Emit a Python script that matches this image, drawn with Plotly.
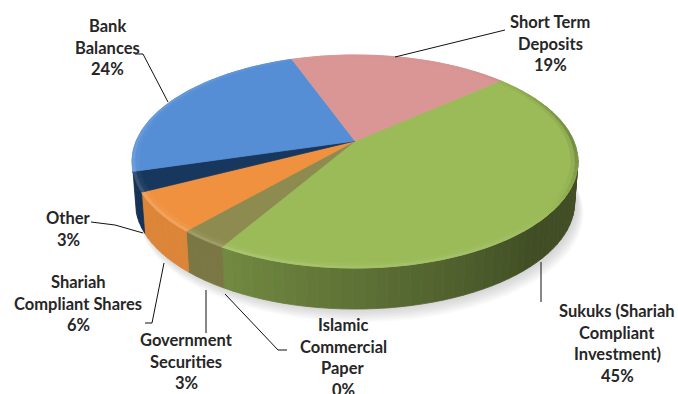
import numpy as np
import plotly.graph_objects as go

# Portfolio composition, clockwise from the start angle
categories = [
    "Sukuks (Shariah\nCompliant\nInvestment)",
    "Islamic\nCommercial\nPaper",
    "Government\nSecurities",
    "Shariah\nCompliant Shares",
    "Other",
    "Bank\nBalances",
    "Short Term\nDeposits",
]
values = [45, 0, 3, 6, 3, 24, 19]
top_colors = ["#9BBB59", "#4BACC6", "#8E8B50", "#F0913F", "#17375E", "#558ED5", "#D99694"]
side_gains = [1.0, 1.0, 0.86, 0.92, 0.9, 0.9, 0.75]

# Perspective disc geometry
START = 48.5
CX, CY = 355.0, 141.0
RX, RY = 218.8, 102.6
TILT = 0.1925
DEPTH = 41.0

label_spots = [(617, 311), (343, 325), (186, 340), (78, 282), (68, 218), (107, 26), (550, 22)]
leaders = [
    [(541, 262), (541, 302)],
    [(225, 294), (278, 350), (287, 350)],
    [(206, 290), (206, 333)],
    [(164, 263), (152, 323), (145, 323)],
    [(91, 222), (115, 225), (143, 233)],
    [(168, 102), (143, 54), (135, 54)],
    [(395, 57), (505, 30)],
]


def project(theta, r=1.0, drop=0.0):
    t = np.radians(theta)
    w = 1 + TILT * r * np.cos(t)
    x = RX * r * np.sin(t) / w
    y = -RY * r * np.cos(t) / w
    shrink = 1 - 0.015 * drop / DEPTH
    return CX + x * shrink, CY + y + drop


def tint(hex_color, f):
    rgb = [int(hex_color[i:i + 2], 16) for i in (1, 3, 5)]
    if f <= 1:
        out = [c * f for c in rgb]
    else:
        out = [c + (255 - c) * (f - 1) for c in rgb]
    return "rgb({},{},{})".format(*[int(min(255, max(0, c))) for c in out])


def rim_light(theta):
    t = np.radians(theta)
    return 1.0 - 0.24 * max(0, np.sin(t)) ** 6 + 0.10 * max(0, -np.cos(t)) + 0.12 * max(0, -np.sin(t))


def polygon(xs, ys, color, edge=True):
    return go.Scatter(
        x=xs, y=ys, mode="lines", fill="toself", fillcolor=color,
        line=dict(color=color, width=0.8) if edge else dict(width=0),
        hoverinfo="skip", showlegend=False,
    )


fig = go.Figure()

# Soft drop shadow beneath the disc
full = np.linspace(0, 360, 181)
for i in range(9):
    sx, sy = project(full, 1.0 + 0.002 * i, DEPTH + 1 + i * 1.2)
    fig.add_trace(polygon(sx + 2 + i * 0.5, sy, "rgba(120,120,120,0.04)", edge=False))

# Slice boundaries in degrees
sweeps = np.array(values, dtype=float) * 3.6
starts = START + np.concatenate([[0], np.cumsum(sweeps)[:-1]])
wall_end = starts[5]
green_end = starts[1]


def side_light(theta):
    # The large slice darkens towards the right; the others stay flat
    if theta <= green_end:
        return 0.42 + 0.32 * np.clip((theta - 135) / (green_end - 135), 0, 1)
    return 1.0


# Visible wall, cut into thin strips so the shading can vary with the angle
for a0, sweep, col, gain in zip(starts, sweeps, top_colors, side_gains):
    if sweep == 0:
        continue
    lo, hi = max(a0, 98.0), min(a0 + sweep, wall_end)
    if hi <= lo:
        continue
    n = max(2, int((hi - lo) / 2.5) + 1)
    edges = np.linspace(lo, hi, n)
    for e0, e1 in zip(edges[:-1], edges[1:]):
        arc = np.linspace(e0, e1, 4)
        xt, yt = project(arc)
        xb, yb = project(arc[::-1], drop=DEPTH)
        shade = tint(col, side_light((e0 + e1) / 2) * gain)
        fig.add_trace(polygon(np.r_[xt, xb, xt[0]], np.r_[yt, yb, yt[0]], shade))

# Top faces
for a0, sweep, col in zip(starts, sweeps, top_colors):
    if sweep == 0:
        continue
    arc = np.linspace(a0, a0 + sweep, max(3, int(sweep * 1.5)))
    xa, ya = project(arc)
    fig.add_trace(polygon(np.r_[CX, xa, CX], np.r_[CY, ya, CY], col))

# Bevelled outer rim, two rings that fade into the face
for a0, sweep, col in zip(starts, sweeps, top_colors):
    if sweep == 0:
        continue
    n = max(2, int(sweep / 3) + 1)
    edges = np.linspace(a0, a0 + sweep, n)
    for e0, e1 in zip(edges[:-1], edges[1:]):
        arc = np.linspace(e0, e1, 3)
        light = rim_light((e0 + e1) / 2)
        for outer, inner, mix in ((0.988, 0.97, 0.3), (1.0, 0.988, 1.0)):
            xo, yo = project(arc, outer)
            xi, yi = project(arc[::-1], inner)
            ring = tint(col, 1 + (light - 1) * mix)
            fig.add_trace(polygon(np.r_[xo, xi, xo[0]], np.r_[yo, yi, yo[0]], ring))

# Leader lines
for path in leaders:
    fig.add_trace(go.Scatter(
        x=[p[0] for p in path], y=[p[1] for p in path], mode="lines",
        line=dict(color="#111111", width=1), hoverinfo="skip", showlegend=False,
    ))

# Category labels, one annotation per text line for tight leading
annotations = []
for name, value, (lx, ly) in zip(categories, values, label_spots):
    lines = name.split("\n") + [f"{value}%"]
    for k, line in enumerate(lines):
        annotations.append(dict(
            x=lx, y=ly + k * 21.7, xref="x", yref="y", text=f"<b>{line}</b>", showarrow=False,
            xanchor="center", yanchor="middle",
            font=dict(family="Lato, Carlito, sans-serif", size=16.5, color="#262626"),
        ))

fig.update_layout(
    width=678, height=394, margin=dict(l=0, r=0, t=0, b=0),
    paper_bgcolor="white", plot_bgcolor="white", showlegend=False,
    xaxis=dict(range=[0, 678], visible=False, fixedrange=True),
    yaxis=dict(range=[394, 0], visible=False, fixedrange=True),
    annotations=annotations,
)
fig.write_html("out.html", config={"displayModeBar": False})
